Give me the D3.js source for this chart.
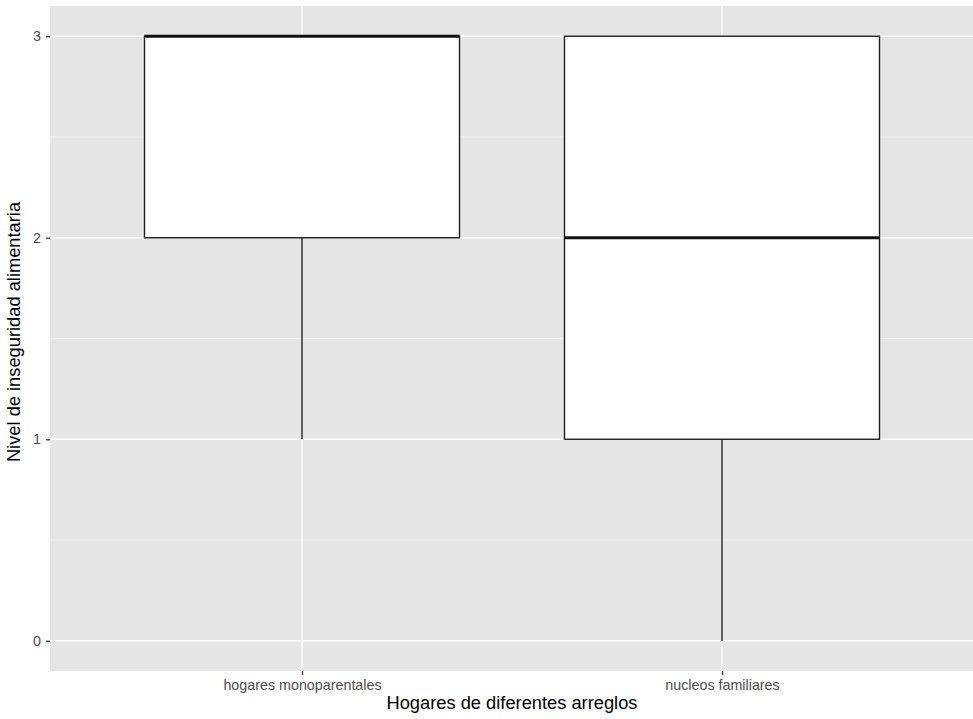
<!DOCTYPE html>
<html>
<head>
<meta charset="utf-8">
<script src="https://cdn.jsdelivr.net/npm/d3@7"></script>
<style>
    body { margin: 0; background: #fff; }
    svg { display: block; font-family: "Liberation Sans", Arial, sans-serif; }
</style>
</head>
<body>
<div id="chart"></div>
<script>
'use strict';

// Box statistics.
var categories = ['hogares monoparentales', 'nucleos familiares'];
var whiskerLow = [1, 0];
var q1 = [2, 1];
var median = [3, 2];
var q3 = [3, 3];
var whiskerHigh = [3, 3];
var yTicks = [0, 1, 2, 3];
var yMinorTicks = [0.5, 1.5, 2.5];

var width = 973,
    height = 719,
    margin = {top: 6, right: -1, bottom: 48, left: 50};

var svg = d3.select('#chart').append('svg')
    .attr('width', width)
    .attr('height', height);

var panelW = width - margin.left - margin.right,
    panelH = height - margin.top - margin.bottom;

var vis = svg.append('g')
    .attr('transform', 'translate(' + margin.left + ',' + margin.top + ')');

// ggplot style expansion: 5% on continuous, 0.6 units on discrete.
var y = d3.scaleLinear()
    .domain([0 - 0.15, 3 + 0.15])
    .range([panelH, 0]);

var x = d3.scaleLinear()
    .domain([0.4, categories.length + 0.6])
    .range([0, panelW]);

var boxWidth = x(1.75) - x(1);

vis.append('rect')
    .attr('width', panelW)
    .attr('height', panelH)
    .attr('fill', '#E5E5E5');

// Minor grid.
vis.selectAll('.minor')
    .data(yMinorTicks)
    .enter().append('line')
    .attr('x1', 0).attr('x2', panelW)
    .attr('y1', function (d) { return y(d); })
    .attr('y2', function (d) { return y(d); })
    .attr('stroke', '#f4f4f4')
    .attr('stroke-width', 0.7);

// Major grid.
vis.selectAll('.major')
    .data(yTicks)
    .enter().append('line')
    .attr('x1', 0).attr('x2', panelW)
    .attr('y1', function (d) { return y(d); })
    .attr('y2', function (d) { return y(d); })
    .attr('stroke', '#fff')
    .attr('stroke-width', 1.4);

vis.selectAll('.vgrid')
    .data(categories)
    .enter().append('line')
    .attr('x1', function (d, i) { return x(i + 1); })
    .attr('x2', function (d, i) { return x(i + 1); })
    .attr('y1', 0).attr('y2', panelH)
    .attr('stroke', '#fff')
    .attr('stroke-width', 1.4);

// Boxes.
var box = vis.selectAll('.box')
    .data(categories)
    .enter().append('g')
    .attr('class', 'box');

box.append('line')
    .attr('x1', function (d, i) { return x(i + 1); })
    .attr('x2', function (d, i) { return x(i + 1); })
    .attr('y1', function (d, i) { return y(whiskerLow[i]); })
    .attr('y2', function (d, i) { return y(q1[i]); })
    .attr('stroke', '#1e1e1e')
    .attr('stroke-width', 1.4);

box.append('line')
    .attr('x1', function (d, i) { return x(i + 1); })
    .attr('x2', function (d, i) { return x(i + 1); })
    .attr('y1', function (d, i) { return y(q3[i]); })
    .attr('y2', function (d, i) { return y(whiskerHigh[i]); })
    .attr('stroke', '#1e1e1e')
    .attr('stroke-width', 1.4);

box.append('rect')
    .attr('x', function (d, i) { return x(i + 1) - boxWidth / 2; })
    .attr('y', function (d, i) { return y(q3[i]); })
    .attr('width', boxWidth)
    .attr('height', function (d, i) { return y(q1[i]) - y(q3[i]); })
    .attr('fill', '#fff')
    .attr('stroke', '#1e1e1e')
    .attr('stroke-width', 1.4);

box.append('line')
    .attr('x1', function (d, i) { return x(i + 1) - boxWidth / 2; })
    .attr('x2', function (d, i) { return x(i + 1) + boxWidth / 2; })
    .attr('y1', function (d, i) { return y(median[i]); })
    .attr('y2', function (d, i) { return y(median[i]); })
    .attr('stroke', '#111')
    .attr('stroke-width', 2.8);

// Axes.
vis.append('g')
    .call(d3.axisLeft(y).tickValues(yTicks).tickSize(4).tickPadding(5).tickFormat(d3.format('d')));

vis.append('g')
    .attr('transform', 'translate(0,' + panelH + ')')
    .call(d3.axisBottom(x).tickValues([1, 2]).tickSize(4).tickPadding(5)
        .tickFormat(function (d) { return categories[d - 1]; }));

vis.selectAll('.domain').remove();
vis.selectAll('.tick line').attr('stroke', '#333').attr('stroke-width', 1.3);
vis.selectAll('.tick text')
    .attr('fill', '#4D4D4D')
    .style('font-size', '14.3px')
    .style('font-family', '"Liberation Sans", Arial, sans-serif');

svg.append('text')
    .attr('x', margin.left + panelW / 2)
    .attr('y', 709)
    .attr('text-anchor', 'middle')
    .style('font-size', '18.3px')
    .text('Hogares de diferentes arreglos');

svg.append('text')
    .attr('transform', 'translate(20,' + 332 + ') rotate(-90)')
    .attr('text-anchor', 'middle')
    .style('font-size', '18.3px')
    .text('Nivel de inseguridad alimentaria');
</script>
</body>
</html>
